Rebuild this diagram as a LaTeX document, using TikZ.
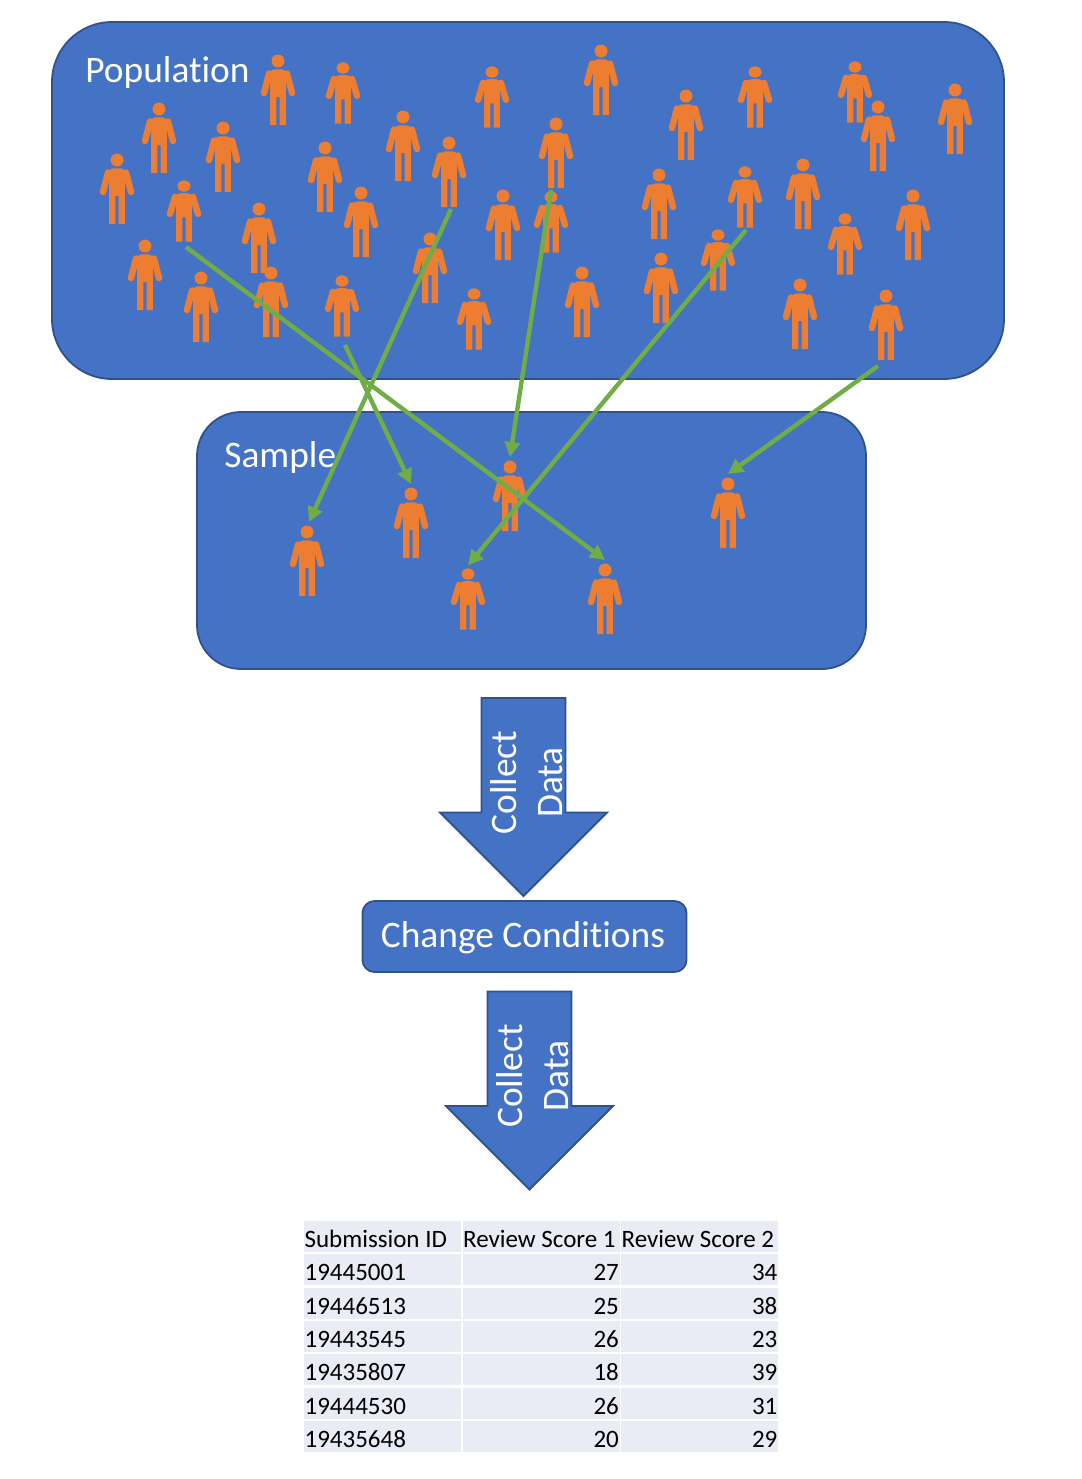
\documentclass[tikz,border=0pt]{standalone}
\usepackage{fontspec}
\setmainfont{Carlito}[Ligatures=CommonOff]
\usetikzlibrary{arrows.meta}
\definecolor{myblue}{HTML}{4472C4}
\definecolor{myedge}{HTML}{2F528F}
\definecolor{myorange}{HTML}{ED7D31}
\definecolor{mygreen}{HTML}{70AD47}
\definecolor{mycell}{HTML}{E9EBF5}
\tikzset{
  bigbox/.style={shape=rectangle, fill=myblue, draw=myedge, line width=.9pt, inner sep=0},
  boxlabel/.style={inner sep=0, text=white, font=\fontsize{18.7}{23}\selectfont},
  pick/.style={draw=mygreen, line width=2.2pt, -{Triangle[length=7.5pt,width=7.5pt]}},
  cell/.style={shape=rectangle, fill=mycell, inner xsep=.3pt, inner ysep=0, minimum height=15.5pt,
    text width=77.9pt, text height=12pt, text depth=1pt, font=\fontsize{12.5}{14}\selectfont},
  person/.pic={
    \begin{scope}[yscale=#1]
    \coordinate (-top) at (0,-10);
    \coordinate (-foot) at (0,64);
    \fill[myorange] (0,0) circle[radius=6.5];
    \fill[myorange] (-7.8,64) -- (-7.8,16) .. controls (-9,11) and (-7,8.3) .. (-3,8.3) -- (3,8.3)
      .. controls (7,8.3) and (9,11) .. (7.8,16) -- (7.8,64) -- (1.7,64) -- (1.7,36) -- (-1.7,36) -- (-1.7,64) -- cycle;
    \draw[myorange, line width=3.2pt, line cap=round] (-9,12.5) -- (-14,32);
    \draw[myorange, line width=3.2pt, line cap=round] (9,12.5) -- (14,32);
    \end{scope}
  },
  collect/.pic={
    \draw[fill=myblue, draw=myedge, line width=.9pt, line join=miter] (-42,0) -- (42,0) -- (42,114.5)
      -- (83.5,114.5) -- (0,198) -- (-83.5,114.5) -- (-42,114.5) -- cycle;
    \node[boxlabel, rotate=90, align=center] (-label) at (3.5,84.5) {Collect\\Data};
  }
}
\begin{document}
\begin{tikzpicture}[x=.5pt,y=-.5pt]
\useasboundingbox (0,0) rectangle (1082,1479);
\node[bigbox, rounded corners=30pt, minimum width=476pt, minimum height=178.5pt] (population) at (528,200.5) {};
\node[bigbox, rounded corners=22pt, minimum width=334.5pt, minimum height=128.5pt] (sample) at (531.5,540.5) {};
\node[boxlabel, anchor=base west] (poplabel) at (85,82) {Population};
\node[boxlabel, anchor=base west] (samplelabel) at (224,467) {Sample};
% people in the population
\foreach \n/\x/\y/\s in {a/278/61/1,b/343/68/.87,c/492/72/.87,d/601/51/1,e/755/72/.87,f/855/67/.87,g/955/90/1,h/878/107/1,
  i/686/96/1,j/159/109/1,k/223/128/1,l/403/117/1,m/449/143/1,n/556/124/1,o/117/160/1,p/325/148/1,q/184/186/.87,
  r/361/193/1,s/259/209/1,t/503/196/1,u/551/197/.87,v/659/175/1,w/745/172/.87,x/803/165/1,y/913/196/1,z/845/219/.87,
  aa/430/239/1,ab/718/235/.87,ac/145/246/1,ad/201/278/1,ae/271/273/1,af/342/281/.87,ag/474/294/.87,ah/582/273/1,
  ai/661/259/1,aj/800/285/1,ak/886/296/1}
  \pic (pop\n) at (\x,\y) {person=\s};
% people in the sample
\foreach \n/\x/\y/\s in {a/307/532/1,b/411/494/1,c/510/467/1,d/728/484/1,e/468/574/.87,f/605/570/1}
  \pic (sam\n) at (\x,\y) {person=\s};
\coordinate (starta) at (186,247);
\coordinate (startb) at (345,345);
\coordinate (startc) at (451,209);
\coordinate (startd) at (551,190);
\coordinate (starte) at (746,230);
\coordinate (startf) at (878,366);
\draw[pick] (starta) -- (samf-top);
\draw[pick] (startb) -- (samb-top);
\draw[pick] (startc) -- ([xshift=1pt]sama-top);
\draw[pick] (startd) -- (samc-top);
\draw[pick] (starte) -- (same-top);
\draw[pick] (startf) -- (samd-top);
\pic (collect1) at (523.5,698) {collect};
\node[bigbox, rounded corners=6pt, minimum width=162pt, minimum height=35.5pt] (change) at (524.5,936.5) {};
\node[boxlabel] (changelabel) at (523,938) {Change Conditions};
\pic (collect2) at (529.5,991.5) {collect};
% table
\foreach \r/\a/\b/\c in {0/Submission ID/Review Score 1/Review Score 2,1/19445001/27/34,2/19446513/25/38,
  3/19443545/26/23,4/19435807/18/39,5/19444530/26/31,6/19435648/20/29} {
  \node[cell, align=flush left] (cella\r) at (382.5,1236.5+33.3*\r) {\a};
  \ifnum\r=0
    \node[cell, align=flush left] (cellb\r) at (541,1236.5) {\b};
    \node[cell, align=flush left] (cellc\r) at (699.5,1236.5) {\c};
  \else
    \node[cell, align=flush right] (cellb\r) at (541,1236.5+33.3*\r) {\b};
    \node[cell, align=flush right] (cellc\r) at (699.5,1236.5+33.3*\r) {\c};
  \fi
}
\end{tikzpicture}
\end{document}
